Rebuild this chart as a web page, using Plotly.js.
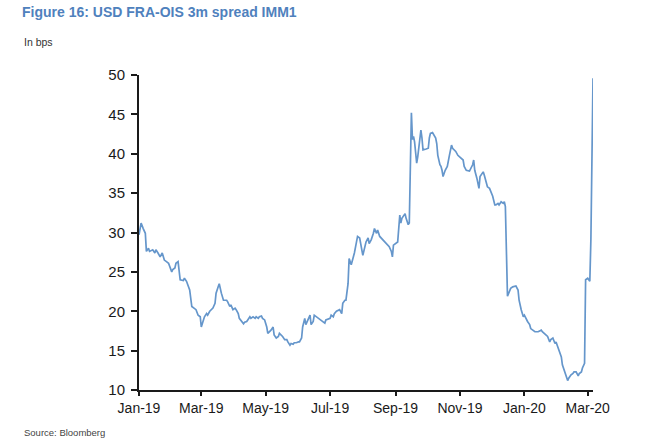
<!DOCTYPE html>
<html>
<head>
<meta charset="utf-8">
<script src="https://cdn.plot.ly/plotly-3.0.1.min.js"></script>
<style>html,body{margin:0;padding:0;background:#fff;}#chart{width:651px;height:441px;}</style>
</head>
<body>
<div id="chart"></div>
<script>
var dates = [
"2019-01-01","2019-01-03","2019-01-05","2019-01-07","2019-01-08","2019-01-10","2019-01-11","2019-01-14","2019-01-16","2019-01-17",
"2019-01-19","2019-01-21","2019-01-23","2019-01-25","2019-01-27","2019-01-29","2019-02-01","2019-02-02","2019-02-04","2019-02-05",
"2019-02-07","2019-02-09","2019-02-12","2019-02-13","2019-02-15","2019-02-16","2019-02-18","2019-02-20","2019-02-23","2019-02-24",
"2019-02-26","2019-02-28","2019-03-01","2019-03-03","2019-03-04","2019-03-06","2019-03-07","2019-03-09","2019-03-11","2019-03-12",
"2019-03-14","2019-03-15","2019-03-17","2019-03-18","2019-03-20","2019-03-22","2019-03-25","2019-03-26","2019-03-28","2019-03-29",
"2019-03-31","2019-04-02","2019-04-03","2019-04-05","2019-04-06","2019-04-10","2019-04-11","2019-04-13","2019-04-14","2019-04-16",
"2019-04-17","2019-04-19","2019-04-21","2019-04-22","2019-04-24","2019-04-25","2019-04-27","2019-04-28","2019-04-30","2019-05-02",
"2019-05-03","2019-05-05","2019-05-06","2019-05-08","2019-05-09","2019-05-11","2019-05-13","2019-05-14","2019-05-16","2019-05-17",
"2019-05-19","2019-05-21","2019-05-22","2019-05-24","2019-05-25","2019-05-27","2019-05-28","2019-05-30","2019-06-01","2019-06-02",
"2019-06-04","2019-06-05","2019-06-07","2019-06-08","2019-06-10","2019-06-12","2019-06-13","2019-06-15","2019-06-16","2019-06-18",
"2019-06-21","2019-06-24","2019-06-26","2019-06-27","2019-07-01","2019-07-02","2019-07-04","2019-07-05","2019-07-07","2019-07-10",
"2019-07-12","2019-07-13","2019-07-15","2019-07-16","2019-07-18","2019-07-19","2019-07-21","2019-07-23","2019-07-24","2019-07-26",
"2019-07-27","2019-07-29","2019-07-31","2019-08-01","2019-08-04","2019-08-06","2019-08-07","2019-08-09","2019-08-11","2019-08-12",
"2019-08-14","2019-08-15","2019-08-17","2019-08-20","2019-08-23","2019-08-26","2019-08-28","2019-08-29","2019-08-30","2019-09-01",
"2019-09-03","2019-09-05","2019-09-06","2019-09-07","2019-09-10","2019-09-11","2019-09-13","2019-09-14","2019-09-16","2019-09-17",
"2019-09-18","2019-09-19","2019-09-21","2019-09-22","2019-09-24","2019-09-25","2019-09-26","2019-09-27","2019-09-30","2019-10-02",
"2019-10-03","2019-10-04","2019-10-06","2019-10-07","2019-10-09","2019-10-10","2019-10-11","2019-10-13","2019-10-14","2019-10-15",
"2019-10-16","2019-10-18","2019-10-20","2019-10-22","2019-10-24","2019-10-25","2019-10-27","2019-10-28","2019-10-30","2019-11-01",
"2019-11-02","2019-11-04","2019-11-05","2019-11-07","2019-11-10","2019-11-13","2019-11-14","2019-11-15","2019-11-17","2019-11-19",
"2019-11-20","2019-11-23","2019-11-24","2019-11-26","2019-11-27","2019-11-29","2019-12-01","2019-12-02","2019-12-04","2019-12-05",
"2019-12-07","2019-12-08","2019-12-10","2019-12-12","2019-12-13","2019-12-14","2019-12-16","2019-12-18","2019-12-19","2019-12-21",
"2019-12-24","2019-12-26","2019-12-27","2019-12-29","2019-12-31","2020-01-01","2020-01-03","2020-01-04","2020-01-06","2020-01-07",
"2020-01-09","2020-01-11","2020-01-14","2020-01-17","2020-01-18","2020-01-20","2020-01-22","2020-01-23","2020-01-25","2020-01-26",
"2020-01-28","2020-01-30","2020-01-31","2020-02-02","2020-02-03","2020-02-05","2020-02-06","2020-02-08","2020-02-10","2020-02-11",
"2020-02-12","2020-02-14","2020-02-16","2020-02-17","2020-02-19","2020-02-21","2020-02-22","2020-02-24","2020-02-25","2020-02-27",
"2020-02-28","2020-03-01","2020-03-03","2020-03-04","2020-03-06"
];
var spread = [
29.7,31.2,30.5,29.9,27.6,28.0,27.6,27.8,27.4,27.8,
27.4,26.9,27.4,26.5,26.3,26.1,25.0,25.3,25.5,26.1,
26.3,24.0,23.9,24.2,23.8,23.5,22.7,20.6,20.2,20.2,
19.5,19.3,18.0,18.7,19.3,19.7,19.5,20.0,20.2,20.4,
21.0,22.3,23.1,23.5,22.3,21.4,21.4,21.2,20.6,20.8,
20.2,20.4,20.2,19.7,19.1,18.4,18.6,18.7,18.9,19.3,
19.1,19.3,19.1,19.3,19.1,19.3,19.4,19.1,18.9,18.0,
17.2,17.4,17.6,18.0,17.0,16.6,16.8,17.2,17.0,16.8,
16.4,16.4,16.1,15.7,15.9,15.8,16.0,16.0,16.1,16.1,
16.6,18.0,19.1,18.3,18.9,19.5,18.3,18.7,19.5,19.3,
19.1,18.7,18.5,18.9,19.1,19.5,19.3,19.7,20.0,20.2,
19.7,21.0,21.4,21.4,23.5,26.7,25.9,26.9,27.4,28.8,
29.5,29.3,27.8,27.1,28.8,29.3,28.6,29.1,29.9,30.5,
29.9,30.3,29.5,29.1,28.6,28.2,27.6,26.9,28.4,28.6,
28.8,32.2,31.2,31.8,32.4,31.8,31.0,31.2,45.2,41.8,
42.2,41.5,38.8,39.6,41.8,43.0,42.0,40.5,40.6,40.7,
42.0,42.6,42.7,42.4,42.0,41.3,39.8,38.6,38.4,37.9,
37.1,37.9,38.4,39.8,41.1,40.7,40.5,40.3,39.8,39.6,
39.4,39.2,38.4,37.9,37.8,38.6,39.2,37.9,36.9,35.6,
37.1,37.7,37.3,36.2,35.8,35.6,35.0,34.6,33.5,33.5,
33.7,33.5,33.9,33.7,33.9,33.3,21.9,22.7,22.9,23.1,
23.2,22.7,21.4,20.2,19.3,19.5,18.9,18.7,18.3,17.8,
17.6,17.4,17.4,17.6,17.4,17.2,17.0,16.8,16.1,16.4,
16.6,15.9,16.1,15.3,14.9,14.2,13.2,12.3,11.7,11.2,
11.5,11.9,12.1,12.3,12.3,11.8,12.1,12.3,12.8,13.4,
24.0,24.2,23.8,29.1,49.6
];
var yTicks = [10,15,20,25,30,35,40,45,50];
var xTickVals = ["2019-01-01","2019-03-01","2019-05-01","2019-07-01","2019-09-01","2019-11-01","2020-01-01","2020-03-01"];
var xTickText = ["Jan-19","Mar-19","May-19","Jul-19","Sep-19","Nov-19","Jan-20","Mar-20"];

var font = '"Liberation Sans", Arial, sans-serif';
var trace = {
  x: dates, y: spread, type: 'scatter', mode: 'lines',
  line: {color: '#6596cb', width: 1.7},
  hoverinfo: 'skip'
};
var layout = {
  width: 651, height: 441,
  margin: {l: 139, r: 58, t: 75, b: 51, pad: 0},
  paper_bgcolor: '#ffffff', plot_bgcolor: '#ffffff',
  showlegend: false,
  font: {family: font, color: '#1a1a1a'},
  title: {
    text: '<b>Figure 16: USD FRA-OIS 3m spread IMM1</b>',
    font: {family: font, size: 14, color: '#4f81bd'},
    xref: 'container', yref: 'container',
    x: 22/651, xanchor: 'left', y: 1 - 12/441, yanchor: 'middle'
  },
  xaxis: {
    type: 'date',
    range: ['2019-01-01', '2020-03-06'],
    tickvals: xTickVals, ticktext: xTickText,
    ticks: 'outside', ticklen: 4, tickwidth: 2, tickcolor: '#1a1a1a',
    showline: true, linecolor: '#1a1a1a', linewidth: 2,
    showgrid: false, zeroline: false,
    tickfont: {family: font, size: 14, color: '#1a1a1a'}
  },
  yaxis: {
    range: [10, 50],
    tickvals: yTicks,
    ticks: 'outside', ticklen: 6, tickwidth: 2, tickcolor: '#1a1a1a',
    showline: true, linecolor: '#1a1a1a', linewidth: 2,
    showgrid: false, zeroline: false,
    ticklabelstandoff: 3,
    tickfont: {family: font, size: 15, color: '#1a1a1a'}
  },
  annotations: [
    {text: 'In bps', xref: 'paper', yref: 'paper', showarrow: false,
     x: (22-139)/454, xanchor: 'left', y: (390-42.5)/315, yanchor: 'middle',
     font: {family: font, size: 10.5, color: '#333333'}},
    {text: 'Source: Bloomberg', xref: 'paper', yref: 'paper', showarrow: false,
     x: (22-139)/454, xanchor: 'left', y: (390-432)/315, yanchor: 'middle',
     font: {family: font, size: 9.5, color: '#444444'}}
  ]
};
Plotly.newPlot('chart', [trace], layout, {displayModeBar: false, staticPlot: true});
</script>
</body>
</html>
